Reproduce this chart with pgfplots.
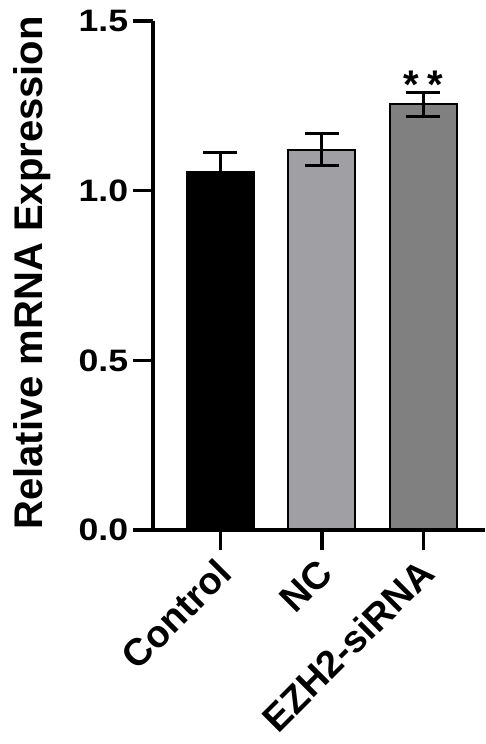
\documentclass[border=0pt]{standalone}
\usepackage{fontspec}
\setmainfont{Liberation Sans}
\usepackage{pgfplots}
\pgfplotsset{compat=1.18}

\definecolor{ncgray}{RGB}{160,160,164}
\definecolor{ezgray}{RGB}{128,128,128}

\begin{document}
\begin{tikzpicture}
\useasboundingbox (0,0) rectangle (485pt,744pt);
\begin{axis}[
    at={(153pt,214pt)}, anchor=south west,
    scale only axis,
    width=332pt, height=509pt,
    ymin=0, ymax=1.5,
    xmin=-0.665, xmax=2.606,
    ytick={0,0.5,1.0,1.5},
    xtick={0,1,2},
    xticklabels={Control,NC,EZH2-siRNA},
    axis x line=bottom, axis y line=left,
    axis line style={-},
    x axis line style={line width=3.5pt},
    y axis line style={line width=4.5pt},
    tick align=outside,
    major tick length=20pt,
    tick style={line width=3.5pt, black},
    axis on top,
    /pgf/number format/assume math mode=true,
    /pgf/number format/fixed,
    /pgf/number format/fixed zerofill,
    /pgf/number format/precision=1,
    yticklabel style={font=\fontsize{31}{31}\selectfont\bfseries, xscale=1.15, inner sep=4pt},
    xticklabel style={font=\fontsize{38}{38}\selectfont\bfseries, rotate=45, anchor=east, inner sep=2pt, xshift=-7pt, yshift=-14pt},
    ylabel={Relative mRNA Expression},
    ylabel style={font=\fontsize{40}{40}\selectfont\bfseries, at={(axis description cs:-0.3645,0.505)}, rotate=0, anchor=center},
    ybar, bar width=67pt,
    error bars/y dir=both,
    error bars/y explicit,
    error bars/error bar style={line width=3pt, black},
    error bars/error mark options={rotate=90, mark size=17pt, line width=3pt, black},
]
% Control
\addplot[bar shift=0pt, fill=black, draw=black, line width=2pt]
  coordinates {(0,1.055) +- (0,0.058)};
% NC
\addplot[bar shift=0pt, fill=ncgray, draw=black, line width=2pt]
  coordinates {(1,1.120) +- (0,0.047)};
% EZH2-siRNA
\addplot[bar shift=0pt, fill=ezgray, draw=black, line width=2pt]
  coordinates {(2,1.254) +- (0,0.036)};
\node[font=\fontsize{40}{40}\selectfont\bfseries, anchor=base] at (axis cs:2,1.272) {*\hspace{8pt}*};
\end{axis}
\end{tikzpicture}
\end{document}
